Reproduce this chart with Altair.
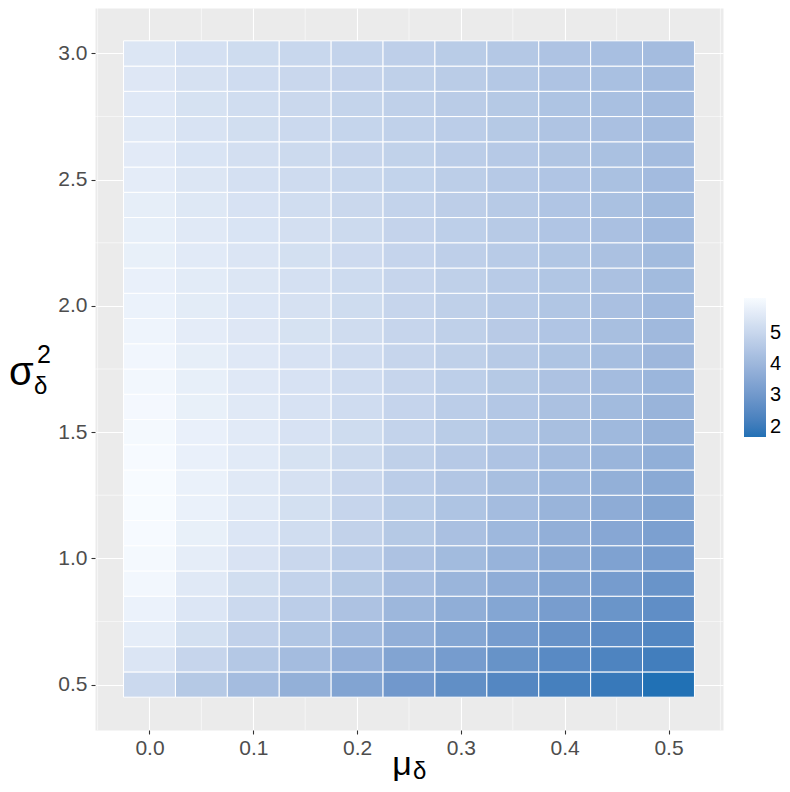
import altair as alt
import pandas as pd

# x: mu_delta, y: sigma^2_delta
mu = [0.0, 0.05, 0.1, 0.15, 0.2, 0.25, 0.3, 0.35, 0.4, 0.45, 0.5]
sigma2 = [0.5, 0.6, 0.7, 0.8, 0.9, 1.0, 1.1, 1.2, 1.3, 1.4, 1.5, 1.6, 1.7,
          1.8, 1.9, 2.0, 2.1, 2.2, 2.3, 2.4, 2.5, 2.6, 2.7, 2.8, 2.9, 3.0]

# tile values, one list per sigma^2 row (columns follow mu)
r_0_5 = [5.07, 4.56, 4.18, 3.78, 3.41, 3.02, 2.70, 2.45, 2.19, 1.97, 1.68]
r_0_6 = [5.44, 4.95, 4.54, 4.16, 3.80, 3.41, 3.14, 2.83, 2.54, 2.33, 2.13]
r_0_7 = [5.68, 5.27, 4.83, 4.47, 4.11, 3.76, 3.45, 3.14, 2.81, 2.62, 2.43]
r_0_8 = [5.83, 5.48, 5.07, 4.70, 4.37, 4.01, 3.72, 3.45, 3.18, 2.89, 2.68]
r_0_9 = [5.98, 5.57, 5.22, 4.88, 4.56, 4.23, 3.94, 3.69, 3.41, 3.14, 2.87]
r_1_0 = [6.03, 5.68, 5.39, 5.02, 4.70, 4.37, 4.13, 3.87, 3.60, 3.33, 3.14]
r_1_1 = [6.08, 5.76, 5.48, 5.20, 4.86, 4.56, 4.30, 4.04, 3.76, 3.51, 3.27]
r_1_2 = [6.10, 5.80, 5.57, 5.27, 4.95, 4.66, 4.41, 4.16, 3.91, 3.66, 3.43]
r_1_3 = [6.10, 5.80, 5.57, 5.32, 5.02, 4.70, 4.49, 4.25, 4.04, 3.78, 3.58]
r_1_4 = [6.08, 5.78, 5.59, 5.34, 5.09, 4.80, 4.59, 4.39, 4.16, 3.94, 3.74]
r_1_5 = [6.04, 5.78, 5.59, 5.36, 5.15, 4.88, 4.66, 4.47, 4.25, 4.06, 3.85]
r_1_6 = [6.02, 5.76, 5.57, 5.36, 5.17, 4.93, 4.70, 4.52, 4.32, 4.13, 3.91]
r_1_7 = [5.99, 5.73, 5.54, 5.36, 5.17, 4.95, 4.75, 4.56, 4.37, 4.18, 3.97]
r_1_8 = [5.96, 5.70, 5.53, 5.36, 5.17, 4.96, 4.79, 4.60, 4.41, 4.22, 4.02]
r_1_9 = [5.90, 5.66, 5.51, 5.34, 5.16, 4.96, 4.80, 4.62, 4.45, 4.26, 4.08]
r_2_0 = [5.83, 5.64, 5.48, 5.32, 5.15, 4.95, 4.80, 4.63, 4.47, 4.30, 4.10]
r_2_1 = [5.78, 5.61, 5.46, 5.29, 5.13, 4.95, 4.79, 4.63, 4.47, 4.32, 4.13]
r_2_2 = [5.76, 5.59, 5.44, 5.27, 5.11, 4.93, 4.77, 4.63, 4.47, 4.32, 4.13]
r_2_3 = [5.73, 5.57, 5.41, 5.25, 5.09, 4.90, 4.75, 4.61, 4.45, 4.30, 4.11]
r_2_4 = [5.70, 5.52, 5.36, 5.20, 5.04, 4.89, 4.74, 4.60, 4.45, 4.31, 4.13]
r_2_5 = [5.65, 5.46, 5.29, 5.14, 5.00, 4.87, 4.73, 4.59, 4.45, 4.31, 4.15]
r_2_6 = [5.60, 5.41, 5.25, 5.09, 4.96, 4.84, 4.70, 4.58, 4.44, 4.31, 4.16]
r_2_7 = [5.57, 5.38, 5.22, 5.07, 4.94, 4.82, 4.69, 4.56, 4.43, 4.30, 4.16]
r_2_8 = [5.53, 5.34, 5.20, 5.04, 4.91, 4.80, 4.68, 4.56, 4.41, 4.29, 4.16]
r_2_9 = [5.51, 5.32, 5.17, 5.02, 4.90, 4.79, 4.67, 4.55, 4.40, 4.29, 4.16]
r_3_0 = [5.46, 5.29, 5.15, 5.00, 4.88, 4.77, 4.66, 4.54, 4.39, 4.27, 4.16]

rows = [r_0_5, r_0_6, r_0_7, r_0_8, r_0_9, r_1_0, r_1_1, r_1_2, r_1_3, r_1_4,
        r_1_5, r_1_6, r_1_7, r_1_8, r_1_9, r_2_0, r_2_1, r_2_2, r_2_3, r_2_4,
        r_2_5, r_2_6, r_2_7, r_2_8, r_2_9, r_3_0]

x_major = [0.0, 0.1, 0.2, 0.3, 0.4, 0.5]
x_minor = [-0.05, 0.05, 0.15, 0.25, 0.35, 0.45, 0.55]
y_major = [0.5, 1.0, 1.5, 2.0, 2.5, 3.0]
y_minor = [0.75, 1.25, 1.75, 2.25, 2.75]
legend_values = [2, 3, 4, 5]

records = []
for s, row in zip(sigma2, rows):
    for m, v in zip(mu, row):
        records.append({"mu": m, "s": s, "v": v})
df = pd.DataFrame(records)

FONT = "Liberation Sans"

xscale = alt.Scale(domain=[-0.0525, 0.5525], nice=False, zero=False)
yscale = alt.Scale(domain=[0.32, 3.18], nice=False, zero=False)

axis_common = dict(
    grid=True, gridColor="white", gridWidth=1.1, domain=False,
    ticks=True, tickColor="#333333", tickSize=4, tickWidth=1.1,
    labelFontSize=21, labelColor="#4D4D4D", labelFont=FONT,
    format=".1f", title="", labelOverlap=False,
)
xaxis = alt.Axis(values=x_major, labelPadding=3, **axis_common)
yaxis = alt.Axis(values=y_major, labelPadding=4, **axis_common)

minor_x = alt.Chart(pd.DataFrame({"mx": x_minor})).mark_rule(
    color="white", strokeWidth=0.55
).encode(x=alt.X("mx:Q", scale=xscale))

minor_y = alt.Chart(pd.DataFrame({"my": y_minor})).mark_rule(
    color="white", strokeWidth=0.55
).encode(y=alt.Y("my:Q", scale=yscale))

tiles = alt.Chart(df).transform_calculate(
    x1="datum.mu - 0.025", x2="datum.mu + 0.025",
    y1="datum.s - 0.05", y2="datum.s + 0.05",
).mark_rect(stroke="white", strokeWidth=1).encode(
    x=alt.X("x1:Q", scale=xscale, axis=xaxis),
    x2="x2:Q",
    y=alt.Y("y1:Q", scale=yscale, axis=yaxis),
    y2="y2:Q",
    color=alt.Color(
        "v:Q",
        scale=alt.Scale(range=["#2171b5", "#f7fbff"], interpolate="lab",
                        zero=False, nice=False),
        legend=alt.Legend(
            title="", orient="none", legendX=649, legendY=290,
            direction="vertical", type="gradient",
            gradientLength=139, gradientThickness=22, gradientStrokeWidth=0,
            values=legend_values, labelFontSize=20, labelColor="black",
            labelFont=FONT, labelOffset=4, labelOverlap=False,
        ),
    ),
)


def label(txt, x, y, size, align="left"):
    return alt.Chart(pd.DataFrame({"t": [txt]})).mark_text(
        align=align, baseline="alphabetic", fontSize=size, font=FONT,
        color="black",
    ).encode(text="t:N", x=alt.value(x), y=alt.value(y))


texts = [
    label("μ", 307, 767, 34, align="center"),
    label("δ", 318, 771, 24),
    label("σ", -86, 377, 40),
    label("2", -58, 355, 25),
    label("δ", -61, 386, 24),
]

chart = alt.layer(minor_x, minor_y, tiles, *texts).properties(
    width=628, height=722,
    padding={"left": 87, "top": 0, "right": 59, "bottom": 54},
    autosize=alt.AutoSizeParams(type="none"),
    background="white",
).configure_view(stroke="transparent", fill="#EBEBEB")

chart.save("out.html", embed_options={"renderer": "svg", "actions": False})
